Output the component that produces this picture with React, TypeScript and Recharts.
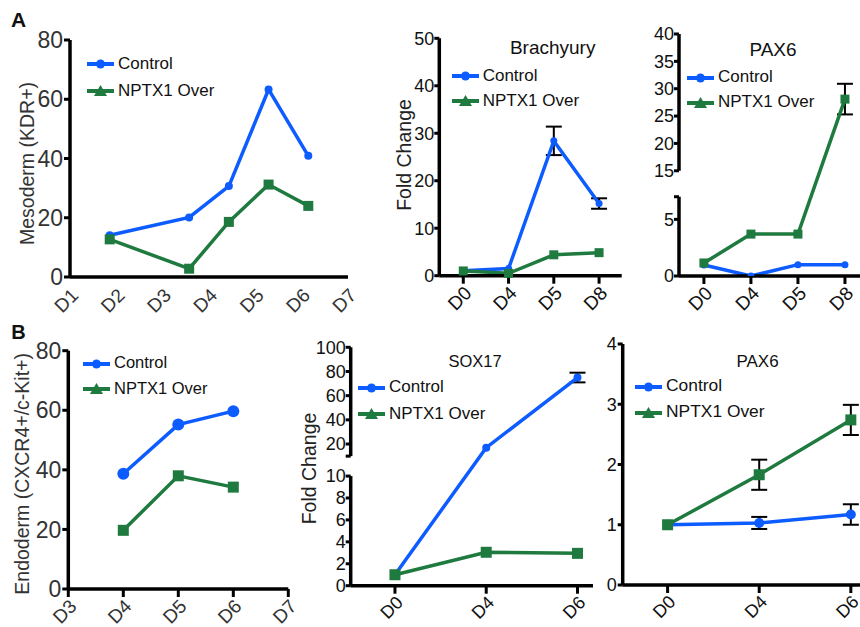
import React from "react";
import { LineChart, Line, XAxis, YAxis, Legend, ErrorBar, ReferenceLine } from "recharts";

const FONT = '"Liberation Sans", Arial, Helvetica, sans-serif';
const BLUE = "#0d5cff";
const GREEN = "#1f7a3f";
const INK = "#111";
const GREY_INK = "#333";

const seriesNames = ["Control", "NPTX1 Over"];

// A, left: mesoderm (slot on the 8-tick grid of the x axis)
const mesoSlots = [1, 3, 4, 5, 6];
const mesoControl = [14.1, 20.1, 30.7, 63.3, 40.9];
const mesoNptx1 = [12.7, 2.8, 18.6, 31.2, 24.0];
const mesoGrid = [0, 1, 2, 3, 4, 5, 6, 7];
const mesoLabels = ["D1", "D2", "D3", "D4", "D5", "D6", "D7"];
const mesoYTicks = [0, 20, 40, 60, 80];

// A, middle: Brachyury
const braDays = ["D0", "D4", "D5", "D8"];
const braControl = [1.05, 1.5, 28.4, 15.2];
const braControlErr = [0, 0, 3.0, 1.1];
const braNptx1 = [1.0, 0.5, 4.4, 4.85];
const braYTicks = [0, 10, 20, 30, 40, 50];

// A, right: PAX6 (broken y axis)
const paxADays = ["D0", "D4", "D5", "D8"];
const paxAControl = [0.97, 0.0, 1.0, 1.0];
const paxANptx1 = [1.15, 3.7, 3.7, 28.1];
const paxANptx1Err = [0, 0, 0, 2.8];
const paxALowTicks = [0, 5];
const paxAHighTicks = [15, 20, 25, 30, 35, 40];

// B, left: endoderm
const endoDays = [4, 5, 6];
const endoControl = [38.7, 55.2, 59.7];
const endoNptx1 = [19.7, 38.0, 34.2];
const endoXTicks = [3, 4, 5, 6, 7];
const endoYTicks = [0, 20, 40, 60, 80];

// B, middle: SOX17 (broken y axis)
const soxDays = ["D0", "D4", "D6"];
const soxControl = [1.0, 17.0, 75.0];
const soxControlErr = [0, 0, 4.0];
const soxNptx1 = [1.0, 3.05, 2.95];
const soxLowTicks = [0, 2, 4, 6, 8, 10];
const soxHighTicks = [20, 40, 60, 80, 100];

// B, right: PAX6
const paxBDays = ["D0", "D4", "D6"];
const paxBControl = [1.0, 1.03, 1.17];
const paxBControlErr = [0, 0.1, 0.17];
const paxBNptx1 = [1.0, 1.83, 2.74];
const paxBNptx1Err = [0, 0.25, 0.25];
const paxBYTicks = [0, 1, 2, 3, 4];

// broken axis: lower part 0..lowTop drawn 1:1, upper part starts after a gap, compressed by k
type Brk = { lowTop: number; gap: number; highStart: number; highTop: number; k: number };
const paxABreak: Brk = { lowTop: 7, gap: 2.29, highStart: 15, highTop: 40, k: 0.483 };
const soxBreak: Brk = { lowTop: 10, gap: 1.82, highStart: 10, highTop: 100, k: 0.1103 };
const brkHigh = (b: Brk, v: number) => b.lowTop + b.gap + (v - b.highStart) * b.k;
const brk = (b: Brk, v: number) => (v <= b.lowTop ? v : brkHigh(b, v));

const ident = (v: number) => v;

function buildRows(
  xs: number[],
  a: number[],
  b: number[],
  aErr?: number[],
  bErr?: number[],
  f: (v: number) => number = ident
) {
  const errOf = (v: number, e?: number) => (e ? [f(v) - f(v - e), f(v + e) - f(v)] : null);
  return xs.map((x, i) => ({
    x,
    control: f(a[i]),
    nptx1: f(b[i]),
    controlErr: errOf(a[i], aErr?.[i]),
    nptx1Err: errOf(b[i], bErr?.[i]),
  }));
}

const mesoRows = buildRows(mesoSlots, mesoControl, mesoNptx1);
const braRows = buildRows(braDays.map((_, i) => i), braControl, braNptx1, braControlErr);
const paxARows = buildRows(
  paxADays.map((_, i) => i),
  paxAControl,
  paxANptx1,
  undefined,
  paxANptx1Err,
  (v) => brk(paxABreak, v)
);
const endoRows = buildRows(endoDays, endoControl, endoNptx1);
const soxRows = buildRows(
  soxDays.map((_, i) => i),
  soxControl,
  soxNptx1,
  soxControlErr,
  undefined,
  (v) => brk(soxBreak, v)
);
const paxBRows = buildRows(paxBDays.map((_, i) => i), paxBControl, paxBNptx1, paxBControlErr, paxBNptx1Err);

const paxATicks = [
  ...paxALowTicks,
  paxABreak.lowTop,
  ...paxAHighTicks.map((v) => brkHigh(paxABreak, v)),
];
const paxATickText = [...paxALowTicks.map(String), "", ...paxAHighTicks.map(String)];
const soxTicks = [
  ...soxLowTicks,
  brkHigh(soxBreak, soxBreak.highStart),
  ...soxHighTicks.map((v) => brkHigh(soxBreak, v)),
];
const soxTickText = [...soxLowTicks.map(String), "", ...soxHighTicks.map(String)];

const fromTicks = (ticks: number[], text: string[]) => (v: number) => {
  const i = ticks.findIndex((t) => Math.abs(t - v) < 1e-6);
  return i < 0 ? "" : text[i];
};

const axisLine = { stroke: "#000", strokeWidth: 3.5 };
const tickLine = { stroke: "#000", strokeWidth: 3 };
const tickFont = (size: number, fill: string = INK) => ({ fontSize: size, fill, fontFamily: FONT });
const yTitle = (value: string, offset: number, dy: number, fill: string = "#222") => ({
  value,
  angle: -90,
  position: "insideLeft" as const,
  offset,
  dy,
  style: { textAnchor: "middle" as const, fontSize: 19.5, fill, fontFamily: FONT },
});

const squareDot = (size: number) => (p: any) => (
  <rect
    key={`sq-${p.index}`}
    x={p.cx - size / 2}
    y={p.cy - size / 2}
    width={size}
    height={size}
    fill={GREEN}
  />
);

const legendContent = (fontSize: number, rowH: number) => (props: any) => (
  <div style={{ fontFamily: FONT, fontSize, color: INK }}>
    {(props.payload || []).map((p: any) => (
      <div key={p.value} style={{ display: "flex", alignItems: "center", height: rowH }}>
        <svg width={27} height={14} style={{ flex: "none" }}>
          <line x1={0} y1={8} x2={27} y2={8} stroke={p.color} strokeWidth={4} />
          {p.value === seriesNames[0] ? (
            <circle cx={13.5} cy={8} r={4.5} fill={p.color} />
          ) : (
            <polygon points="7,13 13.5,2 20,13" fill={p.color} />
          )}
        </svg>
        <span style={{ marginLeft: 4, whiteSpace: "nowrap", lineHeight: 1 }}>{p.value}</span>
      </div>
    ))}
  </div>
);

const legendAt = (left: number, top: number, fontSize: number, rowH: number) => (
  <Legend
    layout="vertical"
    align="center"
    verticalAlign="middle"
    wrapperStyle={{ left, top, width: 170 }}
    content={legendContent(fontSize, rowH)}
  />
);

const lines = (dotR: number, sq: number, xAxisId: string | number = 0) => [
  <Line
    key="c"
    xAxisId={xAxisId}
    dataKey="control"
    name={seriesNames[0]}
    type="linear"
    stroke={BLUE}
    strokeWidth={3.5}
    dot={{ r: dotR, fill: BLUE, stroke: BLUE, strokeWidth: 0 }}
    activeDot={false}
    isAnimationActive={false}
  >
    <ErrorBar dataKey="controlErr" width={8} stroke="#000" strokeWidth={2} direction="y" />
  </Line>,
  <Line
    key="n"
    xAxisId={xAxisId}
    dataKey="nptx1"
    name={seriesNames[1]}
    type="linear"
    stroke={GREEN}
    strokeWidth={3.5}
    dot={squareDot(sq)}
    activeDot={false}
    isAnimationActive={false}
  >
    <ErrorBar dataKey="nptx1Err" width={8} stroke="#000" strokeWidth={2} direction="y" />
  </Line>,
];

const xCommon = {
  type: "number" as const,
  dataKey: "x",
  allowDataOverflow: true,
  interval: 0 as const,
  axisLine,
  tickLine,
  tickSize: 8,
  tickMargin: 1,
  angle: -45,
  textAnchor: "end" as const,
};

function Box({ left, top, children }: { left: number; top: number; children: React.ReactNode }) {
  return <div style={{ position: "absolute", left, top }}>{children}</div>;
}

function Caption({ text, cx, top, size, bold }: { text: string; cx: number; top: number; size: number; bold?: boolean }) {
  return (
    <div
      style={{
        position: "absolute",
        left: cx - 100,
        top,
        width: 200,
        textAlign: "center",
        fontSize: size,
        lineHeight: 1,
        fontWeight: bold ? 700 : 400,
        color: INK,
        fontFamily: FONT,
        whiteSpace: "nowrap",
      }}
    >
      {text}
    </div>
  );
}

export default function App() {
  return (
    <div
      style={{
        position: "absolute",
        left: 0,
        top: 0,
        width: 860,
        height: 627,
        background: "#fff",
        overflow: "hidden",
        fontFamily: FONT,
      }}
    >
      <style>{`.recharts-surface { overflow: visible; }`}</style>

      {/* A: mesoderm */}
      <Box left={0} top={0}>
        <LineChart width={360} height={320} data={mesoRows} margin={{ top: 40, right: 12, left: 0, bottom: 0 }}>
          <XAxis {...xCommon} xAxisId="g" domain={[0, 7]} ticks={mesoGrid} height={1} tick={false} />
          <XAxis
            {...xCommon}
            xAxisId="lab"
            domain={[0, 6]}
            ticks={mesoLabels.map((_, i) => i)}
            tickFormatter={(v: number) => mesoLabels[v]}
            axisLine={false}
            tickLine={false}
            height={42}
            tick={tickFont(19, GREY_INK)}
          />
          <YAxis
            type="number"
            domain={[0, 80]}
            ticks={mesoYTicks}
            interval={0}
            width={70}
            axisLine={axisLine}
            tickLine={tickLine}
            tickSize={6}
            tickMargin={1}
            tick={tickFont(23, GREY_INK)}
            label={yTitle("Mesoderm (KDR+)", 27, 5, GREY_INK)}
          />
          {lines(4, 10, "g")}
          {legendAt(87, 49.5, 17, 27)}
        </LineChart>
      </Box>

      {/* A: Brachyury */}
      <Box left={360} top={0}>
        <LineChart width={270} height={320} data={braRows} margin={{ top: 38.3, right: 8.3, left: 0, bottom: 0 }}>
          <XAxis
            {...xCommon}
            domain={[-0.53, 3.5]}
            ticks={[0, 1, 2, 3]}
            tickFormatter={(v: number) => braDays[v]}
            height={44.3}
            tick={tickFont(19)}
          />
          <YAxis
            type="number"
            domain={[0, 50]}
            ticks={braYTicks}
            interval={0}
            width={79.3}
            axisLine={axisLine}
            tickLine={tickLine}
            tickSize={5}
            tickMargin={0}
            tick={tickFont(18)}
            label={yTitle("Fold Change", 44, -2)}
          />
          {lines(3.5, 9)}
          {legendAt(91.7, 62.5, 17, 25)}
        </LineChart>
      </Box>

      {/* A: PAX6 */}
      <Box left={630} top={0}>
        <LineChart width={230} height={320} data={paxARows} margin={{ top: 34, right: 0, left: 0, bottom: 0 }}>
          <XAxis
            {...xCommon}
            domain={[-0.53, 3.32]}
            ticks={[0, 1, 2, 3]}
            tickFormatter={(v: number) => paxADays[v]}
            height={44}
            tick={tickFont(19)}
          />
          <YAxis
            type="number"
            domain={[0, brkHigh(paxABreak, paxABreak.highTop)]}
            allowDataOverflow
            ticks={paxATicks}
            interval={0}
            width={49}
            axisLine={false}
            tickLine={tickLine}
            tickSize={5}
            tickMargin={0}
            tick={tickFont(18)}
            tickFormatter={fromTicks(paxATicks, paxATickText)}
          />
          <ReferenceLine
            segment={[
              { x: -0.53, y: 0 },
              { x: -0.53, y: paxABreak.lowTop },
            ]}
            stroke="#000"
            strokeWidth={3.5}
            ifOverflow="visible"
          />
          <ReferenceLine
            segment={[
              { x: -0.53, y: brkHigh(paxABreak, paxABreak.highStart) },
              { x: -0.53, y: brkHigh(paxABreak, paxABreak.highTop) },
            ]}
            stroke="#000"
            strokeWidth={3.5}
            ifOverflow="visible"
          />
          {lines(3.5, 9)}
          {legendAt(57, 64.2, 17, 25)}
        </LineChart>
      </Box>

      {/* B: endoderm */}
      <Box left={0} top={320}>
        <LineChart width={300} height={307} data={endoRows} margin={{ top: 30.7, right: 11.7, left: 0, bottom: 0 }}>
          <XAxis
            {...xCommon}
            domain={[3, 7]}
            ticks={endoXTicks}
            tickFormatter={(v: number) => `D${v}`}
            height={38}
            tick={tickFont(19, GREY_INK)}
          />
          <YAxis
            type="number"
            domain={[0, 80]}
            ticks={endoYTicks}
            interval={0}
            width={68.3}
            axisLine={axisLine}
            tickLine={tickLine}
            tickSize={6}
            tickMargin={1}
            tick={tickFont(23, GREY_INK)}
            label={yTitle("Endoderm (CXCR4+/c-Kit+)", 22, 4, GREY_INK)}
          />
          {lines(6, 11)}
          {legendAt(83, 29.9, 16.5, 25.6)}
        </LineChart>
      </Box>

      {/* B: SOX17 */}
      <Box left={290} top={320}>
        <LineChart width={310} height={307} data={soxRows} margin={{ top: 27.3, right: 7, left: 0, bottom: 0 }}>
          <XAxis
            {...xCommon}
            domain={[-0.485, 2.17]}
            ticks={[0, 1, 2]}
            tickFormatter={(v: number) => soxDays[v]}
            height={41.3}
            tick={tickFont(18)}
          />
          <YAxis
            type="number"
            domain={[0, brkHigh(soxBreak, soxBreak.highTop)]}
            allowDataOverflow
            ticks={soxTicks}
            interval={0}
            width={60.7}
            axisLine={false}
            tickLine={tickLine}
            tickSize={5}
            tickMargin={0}
            tick={tickFont(18)}
            tickFormatter={fromTicks(soxTicks, soxTickText)}
            label={yTitle("Fold Change", 19, 2)}
          />
          <ReferenceLine
            segment={[
              { x: -0.485, y: 0 },
              { x: -0.485, y: soxBreak.lowTop },
            ]}
            stroke="#000"
            strokeWidth={3.5}
            ifOverflow="visible"
          />
          <ReferenceLine
            segment={[
              { x: -0.485, y: brkHigh(soxBreak, soxBreak.highStart) },
              { x: -0.485, y: brkHigh(soxBreak, soxBreak.highTop) },
            ]}
            stroke="#000"
            strokeWidth={3.5}
            ifOverflow="visible"
          />
          {lines(4, 11)}
          {legendAt(68, 53.4, 17, 26.6)}
        </LineChart>
      </Box>

      {/* B: PAX6 */}
      <Box left={600} top={320}>
        <LineChart width={260} height={307} data={paxBRows} margin={{ top: 24, right: 0, left: 0, bottom: 0 }}>
          <XAxis
            {...xCommon}
            domain={[-0.49, 2.1]}
            ticks={[0, 1, 2]}
            tickFormatter={(v: number) => paxBDays[v]}
            height={42}
            tick={tickFont(18)}
          />
          <YAxis
            type="number"
            domain={[0, 4]}
            ticks={paxBYTicks}
            interval={0}
            width={22.7}
            axisLine={axisLine}
            tickLine={tickLine}
            tickSize={5}
            tickMargin={1}
            tick={tickFont(18)}
          />
          {lines(5, 11)}
          {legendAt(35, 52.7, 17.4, 26)}
        </LineChart>
      </Box>

      <Caption text="Brachyury" cx={552.7} top={37.5} size={19} />
      <Caption text="PAX6" cx={773} top={40} size={19} />
      <Caption text="SOX17" cx={475} top={353.4} size={16.5} />
      <Caption text="PAX6" cx={757.5} top={353.4} size={17} />
      <Caption text="A" cx={18.5} top={9} size={21} bold />
      <Caption text="B" cx={18.5} top={322} size={20} bold />
    </div>
  );
}
